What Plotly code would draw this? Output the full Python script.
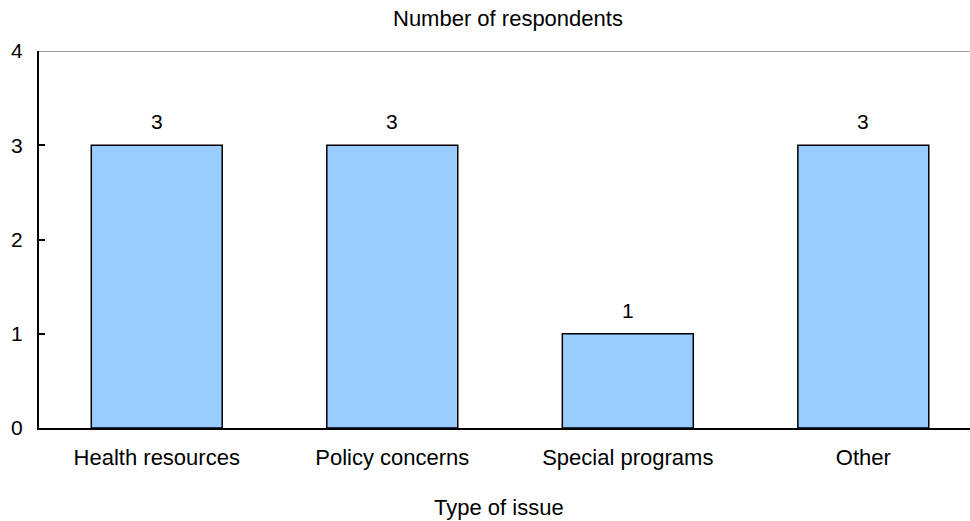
import plotly.graph_objects as go

categories = ["Health resources", "Policy concerns", "Special programs", "Other"]
values = [3, 3, 1, 3]
y_ticks = [0, 1, 2, 3, 4]
y_title = "Number of respondents"
x_title = "Type of issue"

FONT = "Liberation Sans, Arial, sans-serif"
FS = 22      # word labels
FS_NUM = 21  # numbers

fig = go.Figure()
fig.add_trace(go.Bar(
    x=list(range(len(categories))),
    y=values,
    marker=dict(color="#99CCFF", line=dict(color="#000000", width=1.5)),
    hoverinfo="skip",
))

for i, v in enumerate(values):
    fig.add_annotation(x=i, y=v, text=str(v), showarrow=False,
                       xref="x", yref="y", yanchor="bottom", yshift=10,
                       font=dict(family=FONT, size=FS_NUM, color="#000000"))

# top frame line at the top of the value axis
fig.add_shape(type="line", xref="paper", yref="y", x0=0, x1=1, y0=y_ticks[-1], y1=y_ticks[-1],
              line=dict(color="#808080", width=1.5))

fig.add_annotation(text=y_title, xref="paper", yref="paper", x=0.504, y=1.085,
                   showarrow=False, xanchor="center", yanchor="middle",
                   font=dict(family=FONT, size=FS, color="#000000"))
fig.add_annotation(text=x_title, xref="paper", yref="paper", x=0.494, y=-0.21,
                   showarrow=False, xanchor="center", yanchor="middle",
                   font=dict(family=FONT, size=FS, color="#000000"))

fig.update_layout(
    width=970, height=521,
    margin=dict(l=39, r=0, t=51, b=93),
    paper_bgcolor="white", plot_bgcolor="white",
    bargap=0.444,
    showlegend=False,
    font=dict(family=FONT, size=FS, color="#000000"),
)
fig.update_xaxes(
    range=[-0.5, 3.453],
    tickmode="array", tickvals=list(range(len(categories))), ticktext=categories,
    ticks="", showgrid=False, zeroline=False,
    showline=True, linecolor="#000000", linewidth=2,
    ticklabelstandoff=9,
    tickfont=dict(family=FONT, size=FS, color="#000000"),
)
fig.update_yaxes(
    range=[0, 4], tickmode="array", tickvals=y_ticks,
    ticks="inside", ticklen=6, tickwidth=1.5, tickcolor="#000000",
    showgrid=False, zeroline=False,
    showline=True, linecolor="#000000", linewidth=2,
    ticklabelstandoff=10,
    tickfont=dict(family=FONT, size=FS_NUM, color="#000000"),
)

fig.write_html("out.html", config={"displayModeBar": False},
               post_script="document.body.style.margin='0';document.body.style.overflow='hidden';")
